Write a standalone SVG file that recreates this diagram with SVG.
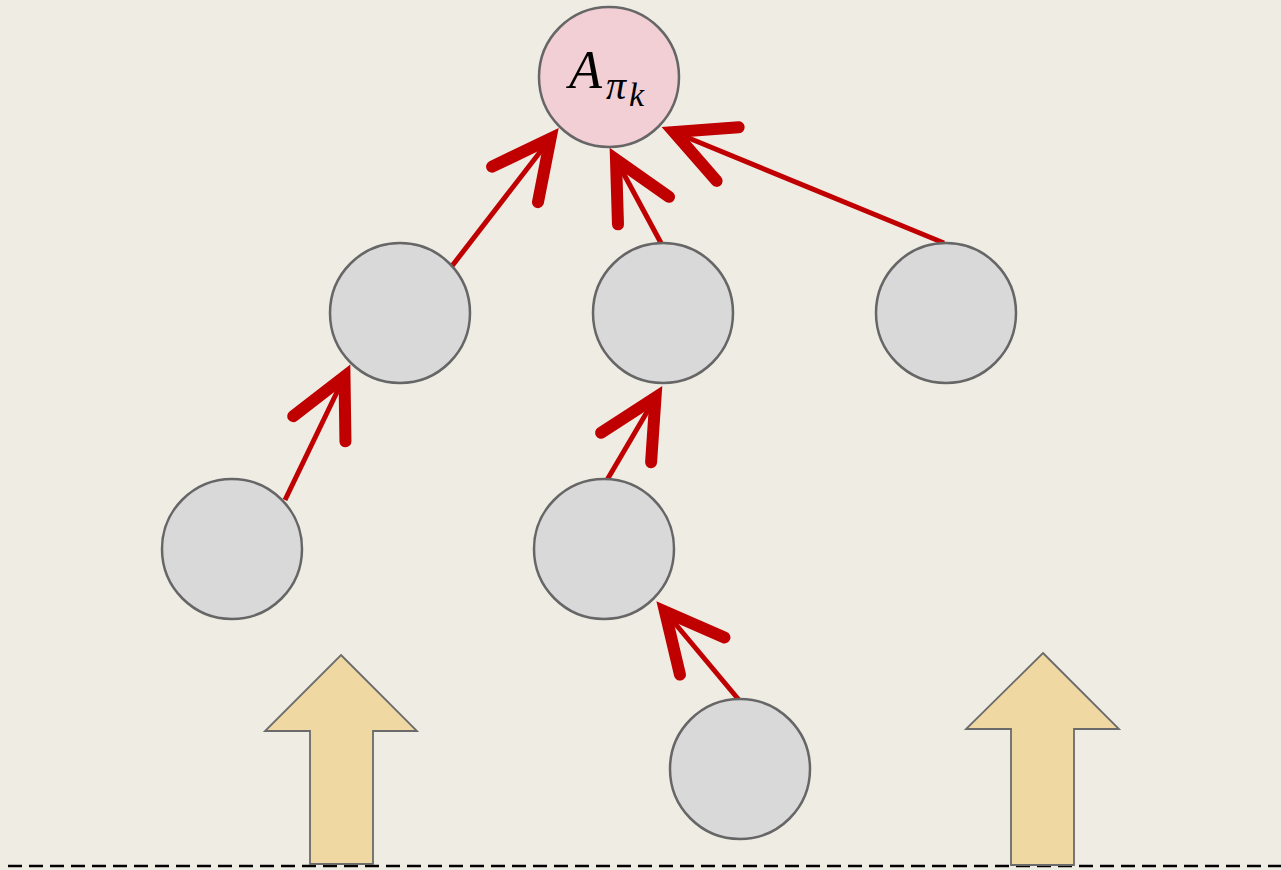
<svg xmlns="http://www.w3.org/2000/svg" width="1281" height="870" viewBox="0 0 1281 870">
  <style>
    .node { fill: #d9d9d9; stroke: #666666; stroke-width: 2.5; }
    .root { fill: #f2ced5; stroke: #666666; stroke-width: 2.5; }
    .edge { fill: none; stroke: #c00000; stroke-width: 5; marker-end: url(#vhead); }
    .big { fill: #f0d8a3; stroke: #6b6b6b; stroke-width: 1.8; stroke-linejoin: miter; }
    .math { font-family: "Liberation Serif", "DejaVu Serif", serif; font-style: italic; fill: #000; }
  </style>
  <defs>
    <marker id="vhead" markerUnits="userSpaceOnUse" markerWidth="10" markerHeight="10" refX="0" refY="0" orient="auto" overflow="visible">
      <path d="M -58,-29 L 0,0 L -58,29" fill="none" stroke="#c00000" stroke-width="12" stroke-linecap="round" stroke-linejoin="miter" stroke-miterlimit="10"/>
    </marker>
  </defs>
  <rect width="1281" height="870" fill="#efece4"/>

  <!-- baseline -->
  <line x1="8" y1="866" x2="1281" y2="866" stroke="#000" stroke-width="2.5" stroke-dasharray="14 7"/>

  <!-- broad upward arrows -->
  <polygon class="big" points="341,655 417,731 373,731 373,864 310,864 310,731 265,731"/>
  <polygon class="big" points="1043,653 1119,729 1074,729 1074,865 1011,865 1011,729 966,729"/>

  <!-- connectors -->
  <g id="edges">
    <line class="edge" x1="452" y1="266" x2="550.5" y2="138.5"/>
    <line class="edge" x1="661" y1="243" x2="616" y2="159.5"/>
    <line class="edge" x1="944" y1="243" x2="674" y2="132"/>
    <line class="edge" x1="285" y1="500" x2="344.5" y2="376.5"/>
    <line class="edge" x1="607" y1="480" x2="655.5" y2="397.5"/>
    <line class="edge" x1="739" y1="700" x2="665" y2="611.5"/>
  </g>

  <g id="root">
    <circle class="root" cx="609" cy="77" r="70"/>
    <text class="math" x="569" y="88" font-size="54">A<tspan font-size="40" dx="4" dy="11">π</tspan><tspan font-size="34" dx="3" dy="7">k</tspan></text>
  </g>
  <g id="n1"><circle class="node" cx="400" cy="313" r="70"/></g>
  <g id="n2"><circle class="node" cx="663" cy="313" r="70"/></g>
  <g id="n3"><circle class="node" cx="946" cy="313" r="70"/></g>
  <g id="n4"><circle class="node" cx="232" cy="549" r="70"/></g>
  <g id="n5"><circle class="node" cx="604" cy="549" r="70"/></g>
  <g id="n6"><circle class="node" cx="740" cy="769" r="70"/></g>
</svg>
